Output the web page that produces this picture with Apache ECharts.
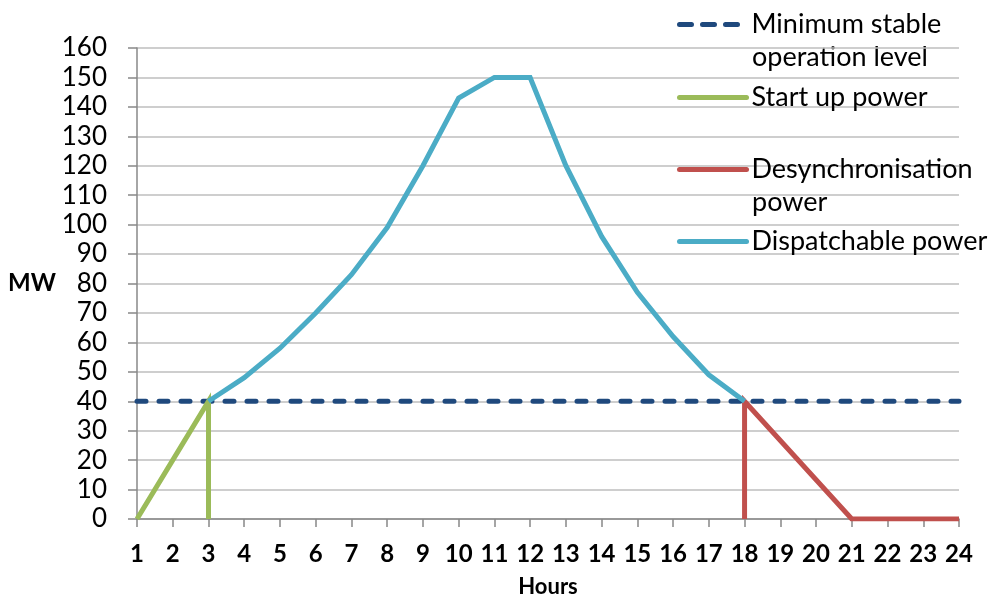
<!DOCTYPE html>
<html>
<head>
<meta charset="utf-8">
<script src="https://cdn.jsdelivr.net/npm/echarts@6/dist/echarts.min.js"></script>
<style>
  html, body { margin: 0; padding: 0; background: #fff; }
  #chart { width: 990px; height: 601px; }
</style>
</head>
<body>
<div id="chart"></div>
<script>
// Hourly profile of a generating unit (MW)
const hourTicks = [1, 24];

const minStableHours = [1, 24];
const minStableMW = [40, 40];

const startUpHours = [1, 2, 3, 3];
const startUpMW = [0, 20, 40, 0];

const desyncHours = [18, 18, 21, 24];
const desyncMW = [0, 40, 0, 0];

const dispatchHours = [3, 4, 5, 6, 7, 8, 9, 10, 11, 12, 13, 14, 15, 16, 17, 18];
const dispatchMW = [40, 48, 58, 70, 83, 99, 120, 143, 150, 150, 120, 96, 77, 62, 49, 40];

const seriesNames = [
  'Minimum stable operation level',
  'Start up power',
  'Desynchronisation power',
  'Dispatchable power'
];
const legendFirstLines = ['Minimum stable', 'Start up power', 'Desynchronisation', 'Dispatchable power'];
const legendSecondLines = ['operation level', '', 'power', ''];

const colors = ['#1F497D', '#9BBB59', '#C0504D', '#4BACC6'];
const FONT = 'Lato';
const LEGEND_FONT_SIZE = 27;

function pairs(xs, ys) { return xs.map((x, i) => [x, ys[i]]); }

const chart = echarts.init(document.getElementById('chart'), null, { renderer: 'canvas' });

const legendTops = [25, 98, 170, 242];
const legends = seriesNames.map((name, i) => ({
  data: [name],
  left: 677,
  top: legendTops[i] - 14,
  padding: 0,
  itemWidth: 67,
  itemHeight: 14,
  itemGap: 6,
  formatter: () => legendFirstLines[i],
  itemStyle: { opacity: 0 },
  lineStyle: i === 0 ? { width: 5, cap: 'round', type: [12, 11] } : { width: 5, cap: 'round' },
  textStyle: { fontFamily: FONT, fontSize: LEGEND_FONT_SIZE, color: '#000' },
  selectedMode: false
}));

const secondLineGraphics = legendSecondLines.map((t, i) => t ? ({
  type: 'text',
  left: 752,
  top: legendTops[i] + 33 - 14,
  style: { text: t, fontFamily: FONT, fontSize: LEGEND_FONT_SIZE, fill: '#000' }
}) : null).filter(Boolean);

const lineSeries = (i, data, extra) => Object.assign({
  name: seriesNames[i],
  type: 'line',
  data: data,
  symbol: 'none',
  animation: false,
  lineStyle: { color: colors[i], width: 5, cap: 'butt', join: 'miter' },
  itemStyle: { color: colors[i] }
}, extra || {});

chart.setOption({
  backgroundColor: '#fff',
  animation: false,
  grid: { left: 137, right: 31, top: 48, bottom: 82, containLabel: false, outerBoundsMode: 'none' },
  legend: legends,
  graphic: secondLineGraphics,
  xAxis: {
    type: 'value',
    min: hourTicks[0],
    max: hourTicks[1],
    interval: 1,
    name: 'Hours',
    nameLocation: 'middle',
    nameGap: 57,
    nameTextStyle: { fontFamily: FONT, fontSize: 22, fontWeight: 'bold', color: '#000' },
    axisLine: { lineStyle: { color: '#888', width: 1.5 } },
    axisTick: { show: true, length: 8, lineStyle: { color: '#888', width: 1.5 } },
    axisLabel: { margin: 23, fontFamily: FONT, fontSize: 24, fontWeight: 'bold', color: '#000' },
    splitLine: { show: false }
  },
  yAxis: {
    type: 'value',
    min: 0,
    max: 160,
    interval: 10,
    name: 'MW',
    nameLocation: 'middle',
    nameRotate: 0,
    nameGap: 77,
    nameTextStyle: { fontFamily: FONT, fontSize: 24, fontWeight: 'bold', color: '#000' },
    axisLine: { show: true, lineStyle: { color: '#888', width: 1.5 } },
    axisTick: { show: true, length: 9, lineStyle: { color: '#888', width: 1.5 } },
    axisLabel: { margin: 30, fontFamily: FONT, fontSize: 26, color: '#000' },
    splitLine: { show: true, lineStyle: { color: '#BEBEBE', width: 1.5 } }
  },
  series: [
    lineSeries(0, pairs(minStableHours, minStableMW), {
      lineStyle: { color: colors[0], width: 5, type: [9, 13], cap: 'round' }
    }),
    lineSeries(1, pairs(startUpHours, startUpMW)),
    lineSeries(2, pairs(desyncHours, desyncMW)),
    lineSeries(3, pairs(dispatchHours, dispatchMW))
  ]
});
</script>
</body>
</html>
